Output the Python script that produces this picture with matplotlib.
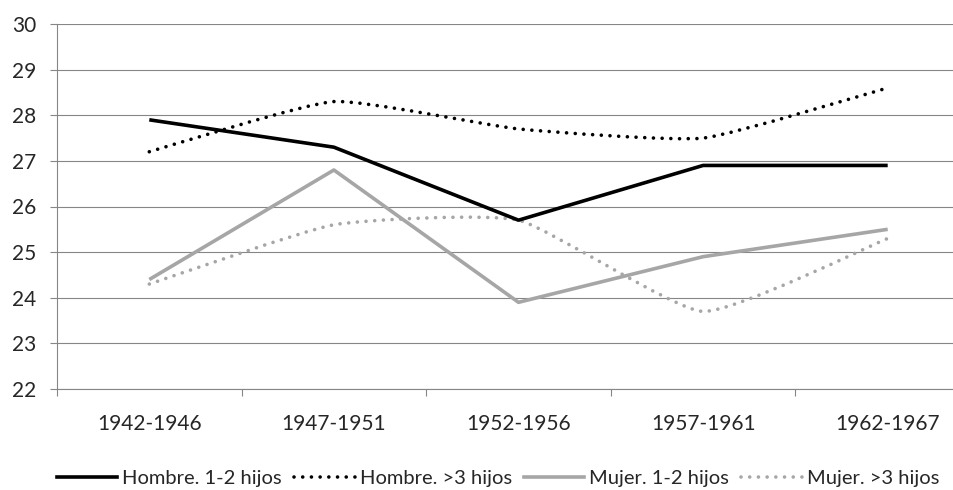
import matplotlib.pyplot as plt
from matplotlib.path import Path
from matplotlib.patches import PathPatch
from matplotlib.lines import Line2D
import numpy as np

periodos = ['1942-1946', '1947-1951', '1952-1956', '1957-1961', '1962-1967']
hombre_12 = [27.9, 27.3, 25.7, 26.9, 26.9]
hombre_3 = [27.2, 28.3, 27.7, 27.5, 28.6]
mujer_12 = [24.4, 26.8, 23.9, 24.9, 25.5]
mujer_3 = [24.3, 25.6, 25.7, 23.7, 25.3]

GRIS = '#a6a6a6'
DOT = (0, (0.01, 2.4))
LW_DOT = 2.6

plt.rcParams['font.family'] = ['Lato', 'DejaVu Sans']


def smooth_path(xs, ys, k=0.08):
    #Bezier path like Excel "smoothed line"
    pts = list(zip(xs, ys))
    n = len(pts)
    verts = [pts[0]]
    codes = [Path.MOVETO]
    for i in range(n - 1):
        p0 = pts[max(i - 1, 0)]
        p1 = pts[i]
        p2 = pts[i + 1]
        p3 = pts[min(i + 2, n - 1)]
        c1 = (p1[0] + (p2[0] - p0[0]) * k, p1[1] + (p2[1] - p0[1]) * k)
        c2 = (p2[0] - (p3[0] - p1[0]) * k, p2[1] - (p3[1] - p1[1]) * k)
        verts += [c1, c2, p2]
        codes += [Path.CURVE4] * 3
    return Path(verts, codes)


fig = plt.figure(figsize=(9.54, 4.90), dpi=100)
ax = fig.add_axes([57 / 954, 1 - 389 / 490, 923 / 954, 365 / 490])

x = np.arange(len(periodos))

ax.plot(x, hombre_12, color='black', lw=2.6, solid_capstyle='butt', zorder=4)
ax.plot(x, mujer_12, color=GRIS, lw=2.6, solid_capstyle='butt', zorder=3)

for serie, col in [(hombre_3, 'black'), (mujer_3, GRIS)]:
    patch = PathPatch(smooth_path(x, serie), facecolor='none', edgecolor=col,
                      lw=LW_DOT, linestyle=DOT, capstyle='round', zorder=3)
    ax.add_patch(patch)

ax.set_xlim(-0.5, 4.5)
ax.set_ylim(22, 30)
ax.set_yticks(range(22, 31))
ax.set_xticks(x)
ax.set_xticklabels(periodos)
ax.set_xticks(np.arange(-0.5, 5, 1), minor=True)

ax.grid(axis='y', color='#868686', lw=0.8)
ax.set_axisbelow(True)
for s in ['top', 'right']:
    ax.spines[s].set_visible(False)
ax.spines['left'].set_color('#868686')
ax.spines['bottom'].set_color('#868686')
ax.spines['left'].set_linewidth(0.8)
ax.spines['bottom'].set_linewidth(0.8)

ax.tick_params(axis='y', length=5, color='#868686', width=0.8, labelsize=15,
               labelcolor='#262626', pad=10)
ax.tick_params(axis='x', which='major', length=0, labelsize=15,
               labelcolor='#262626', pad=18)
ax.tick_params(axis='x', which='minor', length=5, color='#868686', width=0.8)

handles = [
    Line2D([], [], color='black', lw=2.6),
    Line2D([], [], color='black', lw=LW_DOT, linestyle=DOT, dash_capstyle='round'),
    Line2D([], [], color=GRIS, lw=2.6),
    Line2D([], [], color=GRIS, lw=LW_DOT, linestyle=DOT, dash_capstyle='round'),
]
labels = ['Hombre. 1-2 hijos', 'Hombre. >3 hijos', 'Mujer. 1-2 hijos', 'Mujer. >3 hijos']
fig.legend(handles, labels, loc='center', bbox_to_anchor=(498 / 954, 1 - 478 / 490),
           ncol=4, frameon=False, fontsize=14.5, handlelength=3.0, handletextpad=0.25,
           columnspacing=0.6, labelcolor='#262626', borderaxespad=0, borderpad=0)

fig.savefig('out.png', dpi=100)
